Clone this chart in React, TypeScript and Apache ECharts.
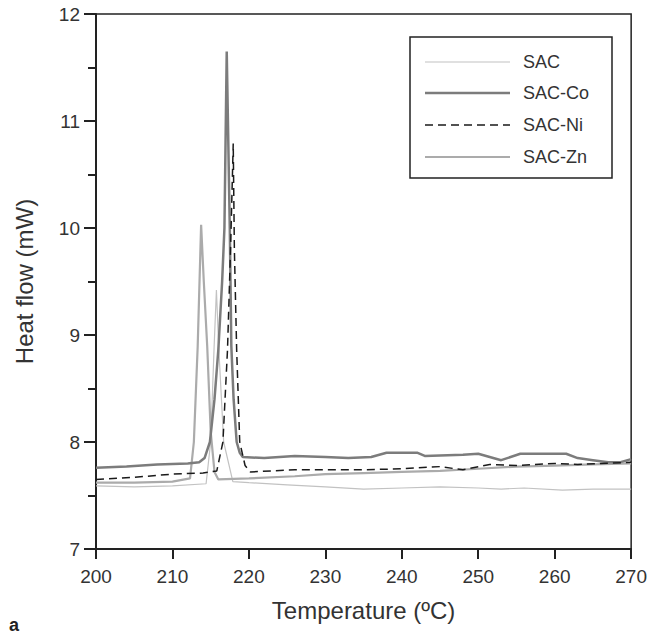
import React, { useEffect, useRef } from "react";
import * as echarts from "echarts";

const xTicks = [200, 210, 220, 230, 240, 250, 260, 270];
const yTicks = [7, 8, 9, 10, 11, 12];

const seriesNames = ["SAC", "SAC-Co", "SAC-Ni", "SAC-Zn"];

const sacT = [200, 205, 210, 214.4, 215, 215.45, 215.75, 216.05, 216.7, 217.9, 220, 225, 230, 235, 240, 245, 250, 253, 256, 261, 265, 270];
const sacV = [7.59, 7.58, 7.59, 7.61, 8.0, 8.89, 9.42, 8.89, 8.0, 7.63, 7.62, 7.6, 7.58, 7.56, 7.57, 7.58, 7.57, 7.56, 7.57, 7.55, 7.56, 7.56];

const coT = [200, 204, 208, 212, 213.5, 214.2, 214.9, 215.5, 216, 216.5, 216.8, 217.1, 217.5, 217.7, 218.0, 218.4, 218.8, 219.2, 222, 226, 230, 233, 236, 238, 242, 243, 248, 250, 253, 255.5, 261.5, 263, 265, 267, 268.5, 270];
const coV = [7.76, 7.77, 7.79, 7.8, 7.81, 7.85, 8.0, 8.4, 8.86, 9.5, 10.0, 11.65, 10.0, 8.9, 8.4, 8.0, 7.9, 7.86, 7.85, 7.87, 7.86, 7.85, 7.86, 7.9, 7.9, 7.87, 7.88, 7.89, 7.83, 7.89, 7.89, 7.85, 7.83, 7.81, 7.81, 7.84];

const niT = [200, 205, 210, 214, 215.8, 216.6, 217.2, 217.6, 217.95, 218.1, 218.4, 218.8, 219.5, 220.2, 223, 226, 230, 235, 240, 245, 248, 251.5, 255, 260, 263, 266, 270];
const niV = [7.65, 7.67, 7.7, 7.71, 7.73, 8.0, 8.86, 9.8, 10.79, 9.8, 8.86, 8.0, 7.78, 7.72, 7.73, 7.74, 7.74, 7.74, 7.75, 7.77, 7.74, 7.79, 7.78, 7.8, 7.79, 7.8, 7.81];

const znT = [200, 205, 210, 212.3, 212.8, 213.3, 213.75, 214.1, 214.55, 215, 215.5, 216, 220, 226, 230, 235, 240, 245, 250, 255, 260, 265, 270];
const znV = [7.62, 7.62, 7.63, 7.66, 8.0, 8.89, 10.03, 9.5, 8.89, 8.1, 7.72, 7.65, 7.66, 7.68, 7.7, 7.71, 7.72, 7.73, 7.75, 7.77, 7.78, 7.79, 7.8];

const FONT = "'Liberation Sans', Arial, sans-serif";

const colors = ["#c2c2c2", "#7c7c7c", "#1a1a1a", "#ababab"];
const widths = [1.2, 2.5, 1.5, 2.2];
const dashes: any[] = [null, null, [8, 5], null];

function pairs(t: number[], v: number[]) {
  return t.map((x, i) => [x, v[i]]);
}

export default function App() {
  const ref = useRef<HTMLDivElement>(null);
  useEffect(() => {
    if (!ref.current) return;
    const chart = echarts.init(ref.current, null, { renderer: "svg" });
    const mk = (i: number, t: number[], v: number[], z: number) => ({
      name: seriesNames[i],
      type: "line",
      data: pairs(t, v),
      showSymbol: false,
      symbol: "none",
      z,
      lineStyle: { color: colors[i], width: widths[i], type: dashes[i] ? dashes[i] : "solid" },
      itemStyle: { color: colors[i] },
    });

    const legendRows = [62, 93, 125, 157];
    const legendGraphics: any[] = [
      {
        type: "rect",
        z: 100,
        shape: { x: 410, y: 37, width: 202, height: 141 },
        style: { fill: "#fff", stroke: "#222", lineWidth: 1.5 },
      },
    ];
    seriesNames.forEach((name, i) => {
      legendGraphics.push({
        type: "line",
        z: 101,
        shape: { x1: 425, y1: legendRows[i], x2: 510, y2: legendRows[i] },
        style: {
          stroke: colors[i],
          lineWidth: widths[i],
          lineDash: dashes[i] ? dashes[i] : null,
        },
      });
      legendGraphics.push({
        type: "text",
        z: 101,
        x: 523,
        y: legendRows[i],
        style: {
          text: name,
          font: "18px " + FONT,
          fill: "#333",
          verticalAlign: "middle",
          align: "left",
        },
      });
    });

    chart.setOption({
      animation: false,
      backgroundColor: "#fff",
      textStyle: { fontFamily: FONT },
      grid: {
        left: 96,
        right: 18,
        top: 14,
        bottom: 85,
        show: true,
        borderColor: "#222",
        borderWidth: 1.5,
        backgroundColor: "transparent",
      },
      xAxis: {
        type: "value",
        min: xTicks[0],
        max: xTicks[xTicks.length - 1],
        interval: 10,
        name: "Temperature (\u00baC)",
        nameLocation: "middle",
        nameGap: 49,
        nameTextStyle: { fontSize: 24, color: "#333", fontFamily: FONT },
        axisLine: { show: true, lineStyle: { color: "#222", width: 2 } },
        axisTick: { show: true, inside: false, length: 10, lineStyle: { color: "#222", width: 2 } },
        axisLabel: { fontSize: 19, color: "#333", margin: 18, fontFamily: FONT },
        splitLine: { show: false },
      },
      yAxis: {
        type: "value",
        min: yTicks[0],
        max: yTicks[yTicks.length - 1],
        interval: 1,
        name: "Heat flow (mW)",
        nameLocation: "middle",
        nameGap: 60,
        nameTextStyle: { fontSize: 24, color: "#333", fontFamily: FONT },
        axisLine: { show: true, lineStyle: { color: "#222", width: 2 } },
        axisTick: { show: true, inside: false, length: 12, lineStyle: { color: "#222", width: 2 } },
        minorTick: { show: true, splitNumber: 2, length: 8, lineStyle: { color: "#222", width: 2 } },
        axisLabel: { fontSize: 19, color: "#333", margin: 16, fontFamily: FONT },
        splitLine: { show: false },
        minorSplitLine: { show: false },
      },
      graphic: [
        {
          type: "text",
          x: 9,
          y: 625,
          style: { text: "a", font: "bold 18px " + FONT, fill: "#222", verticalAlign: "middle" },
        },
        ...legendGraphics,
      ],
      series: [
        mk(0, sacT, sacV, 2),
        mk(1, coT, coV, 3),
        mk(2, niT, niV, 4),
        mk(3, znT, znV, 2),
      ],
    });
    return () => chart.dispose();
  }, []);
  return (
    <div
      ref={ref}
      style={{ position: "absolute", left: 0, top: 0, width: 650, height: 634 }}
    />
  );
}
